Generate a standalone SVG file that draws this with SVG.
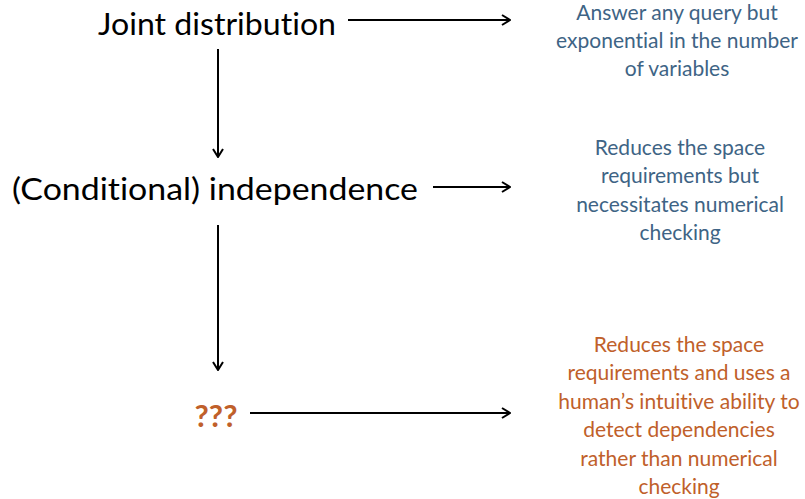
<svg xmlns="http://www.w3.org/2000/svg" width="805" height="499" viewBox="0 0 805 499">
<defs>
<style>
text{font-variant-ligatures:none;font-feature-settings:"liga" 0,"dlig" 0}
.main{font-family:Lato,"Liberation Sans",sans-serif;font-size:31px;fill:#000;text-anchor:middle}
.note{font-family:Lato,"Liberation Sans",sans-serif;font-size:21px;text-anchor:middle}
.blue{fill:#3E6485}
.orange{fill:#C0602A}
.conn{stroke:#000;stroke-width:2;fill:none;marker-end:url(#arr)}
</style>
<marker id="arr" viewBox="0 0 10 12" refX="9" refY="6" markerWidth="10" markerHeight="12" markerUnits="userSpaceOnUse" orient="auto">
<path d="M1,1 L9,6 L1,11" fill="none" stroke="#000" stroke-width="2"/>
</marker>
</defs>
<rect width="805" height="499" fill="#fff"/>
<g id="connectors">
<line class="conn" x1="348" y1="20" x2="510" y2="20"/>
<line class="conn" x1="218" y1="49" x2="218" y2="157"/>
<line class="conn" x1="433" y1="187" x2="510" y2="187"/>
<line class="conn" x1="218" y1="225" x2="218" y2="370"/>
<line class="conn" x1="250" y1="413" x2="510" y2="413"/>
</g>
<g id="joint"><text class="main" x="217" y="35" textLength="238" lengthAdjust="spacingAndGlyphs">Joint distribution</text></g>
<g id="conditional"><text class="main" x="215" y="200" textLength="406" lengthAdjust="spacingAndGlyphs">(Conditional) independence</text></g>
<g id="unknown"><text class="main orange" x="216" y="427" font-weight="bold">???</text></g>
<g id="note1">
<text class="note blue" x="677" y="20">Answer any query but</text>
<text class="note blue" x="677" y="48">exponential in the number</text>
<text class="note blue" x="677" y="76">of variables</text>
</g>
<g id="note2">
<text class="note blue" x="680" y="155">Reduces the space</text>
<text class="note blue" x="680" y="183.3">requirements but</text>
<text class="note blue" x="680" y="211.6">necessitates numerical</text>
<text class="note blue" x="680" y="240">checking</text>
</g>
<g id="note3">
<text class="note orange" x="679" y="352">Reduces the space</text>
<text class="note orange" x="679" y="380.4">requirements and uses a</text>
<text class="note orange" x="679" y="408.8">human’s intuitive ability to</text>
<text class="note orange" x="679" y="437.2">detect dependencies</text>
<text class="note orange" x="679" y="465.6">rather than numerical</text>
<text class="note orange" x="679" y="494">checking</text>
</g>
</svg>
